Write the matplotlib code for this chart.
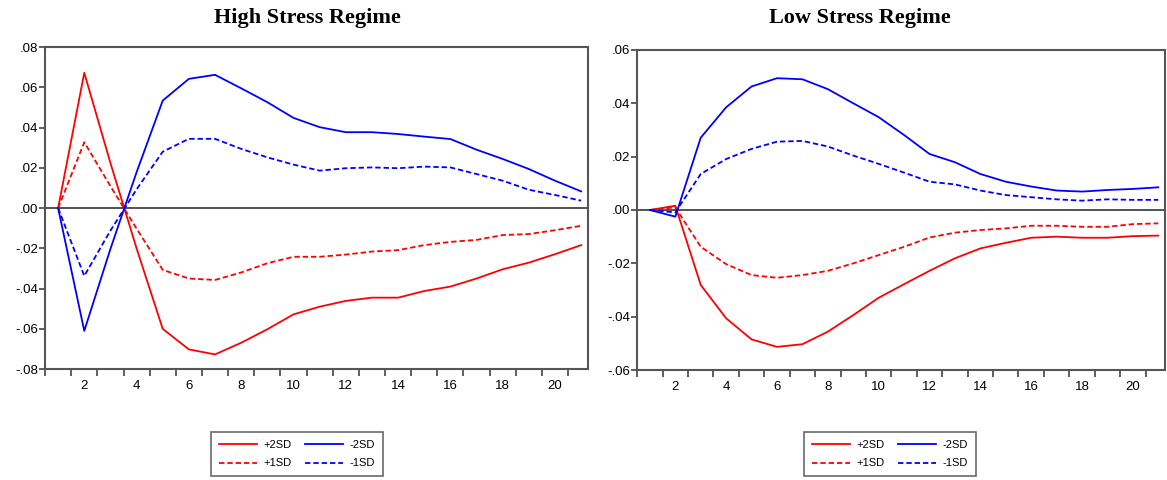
import numpy as np
import matplotlib
matplotlib.use("Agg")
import matplotlib.pyplot as plt
from matplotlib.ticker import FuncFormatter, MultipleLocator

plt.rcParams["font.family"] = ["Liberation Sans", "DejaVu Sans"]

# Horizon (periods)
periods = np.arange(1, 22)

# High stress regime responses
high_p2 = [0.0, 0.0672, 0.0224, -0.020, -0.060, -0.0702, -0.0727, -0.0669, -0.0602, -0.0528,
           -0.049, -0.0461, -0.0445, -0.0445, -0.0412, -0.039, -0.035, -0.0304, -0.0271, -0.0229, -0.0184]
high_p1 = [0.0, 0.0327, 0.0109, -0.0102, -0.0307, -0.035, -0.0357, -0.032, -0.0274, -0.0242,
           -0.0242, -0.0231, -0.0216, -0.0209, -0.0184, -0.0168, -0.0158, -0.0134, -0.0129, -0.011, -0.0088]
high_m2 = [0.0, -0.061, -0.0203, 0.0178, 0.0534, 0.0642, 0.0662, 0.0595, 0.0526, 0.0448,
           0.0402, 0.0377, 0.0377, 0.0368, 0.0355, 0.0343, 0.029, 0.0244, 0.0194, 0.0136, 0.0083]
high_m1 = [0.0, -0.0337, -0.0112, 0.0093, 0.028, 0.0344, 0.0344, 0.0294, 0.0252, 0.0216,
           0.0186, 0.0198, 0.0202, 0.0198, 0.0206, 0.0202, 0.0169, 0.0136, 0.0091, 0.0065, 0.0037]

# Low stress regime responses
low_p2 = [0.0, 0.0016, -0.0281, -0.0406, -0.0485, -0.0513, -0.0503, -0.0456, -0.0394, -0.0329,
          -0.0278, -0.0228, -0.0181, -0.0144, -0.0123, -0.0104, -0.010, -0.0104, -0.0104, -0.0098, -0.0096]
low_p1 = [0.0, 0.001, -0.0138, -0.0203, -0.0244, -0.0254, -0.0244, -0.0228, -0.020, -0.0169,
          -0.0138, -0.0103, -0.0085, -0.0075, -0.0069, -0.0059, -0.0059, -0.0063, -0.0063, -0.0053, -0.005]
low_m2 = [0.0, -0.0025, 0.0271, 0.0385, 0.0463, 0.0494, 0.049, 0.0453, 0.040, 0.0348,
          0.0281, 0.021, 0.0179, 0.0135, 0.0106, 0.0088, 0.0073, 0.0069, 0.0075, 0.0079, 0.0085]
low_m1 = [0.0, -0.0009, 0.0135, 0.0191, 0.0229, 0.0256, 0.0259, 0.0238, 0.0204, 0.0173,
          0.014, 0.0106, 0.0096, 0.0073, 0.0056, 0.0048, 0.004, 0.0035, 0.004, 0.0038, 0.0038]

labels = ["+2SD", "+1SD", "-2SD", "-1SD"]


def fmt(v, pos):
    if abs(v) < 1e-9:
        return ".00"
    return ("%.2f" % v).replace("0.", ".")


def draw(ax, p2, p1, m2, m1, ylim, ystep):
    dash = (0, (3, 1.6))
    h1, = ax.plot(periods, p2, color="red", lw=1.3)
    h2, = ax.plot(periods, p1, color="red", lw=1.3, linestyle=dash)
    h3, = ax.plot(periods, m2, color="blue", lw=1.3)
    h4, = ax.plot(periods, m1, color="blue", lw=1.3, linestyle=dash)
    ax.axhline(0, color="#444444", lw=1.3, zorder=1)
    ax.set_xlim(0.5, 21.25)
    ax.set_ylim(-ylim, ylim)
    ax.yaxis.set_major_locator(MultipleLocator(ystep))
    ax.yaxis.set_major_formatter(FuncFormatter(fmt))
    ax.set_xticks(np.arange(2, 21, 2))
    ax.set_xticks(np.arange(0.5, 21.5, 1), minor=True)
    ax.tick_params(axis="x", which="major", length=0, pad=8, labelsize=9.5)
    ax.tick_params(axis="x", which="minor", length=5, width=1.2, color="#444444")
    ax.tick_params(axis="y", length=4, width=1.2, color="#444444", labelsize=9.5, pad=1)
    for sp in ax.spines.values():
        sp.set_color("#555555")
        sp.set_linewidth(1.5)
    return [h1, h2, h3, h4]


fig = plt.figure(figsize=(11.67, 4.8), dpi=100)
ax1 = fig.add_axes([0.0386, 0.231, 0.465, 0.671])
ax2 = fig.add_axes([0.546, 0.229, 0.452, 0.667])

hs1 = draw(ax1, high_p2, high_p1, high_m2, high_m1, 0.08, 0.02)
hs2 = draw(ax2, low_p2, low_p1, low_m2, low_m1, 0.06, 0.02)

fig.text(307 / 1167, 1 - 18 / 480, "High Stress Regime", ha="center", va="center",
         fontsize=16, fontweight="bold", family="Liberation Serif")
fig.text(860 / 1167, 1 - 18 / 480, "Low Stress Regime", ha="center", va="center",
         fontsize=16, fontweight="bold", family="Liberation Serif")

for hs, cx in [(hs1, 297), (hs2, 890)]:
    leg = fig.legend(hs, labels, ncol=2, loc="center", bbox_to_anchor=(cx / 1167, 1 - 454 / 480),
                     fontsize=8, frameon=True, fancybox=False, handlelength=3.4,
                     columnspacing=1.2, handletextpad=0.6, labelspacing=0.8, borderpad=0.7)
    leg.get_frame().set_edgecolor("#444444")
    leg.get_frame().set_linewidth(1.2)

fig.savefig("out.png", dpi=100)
